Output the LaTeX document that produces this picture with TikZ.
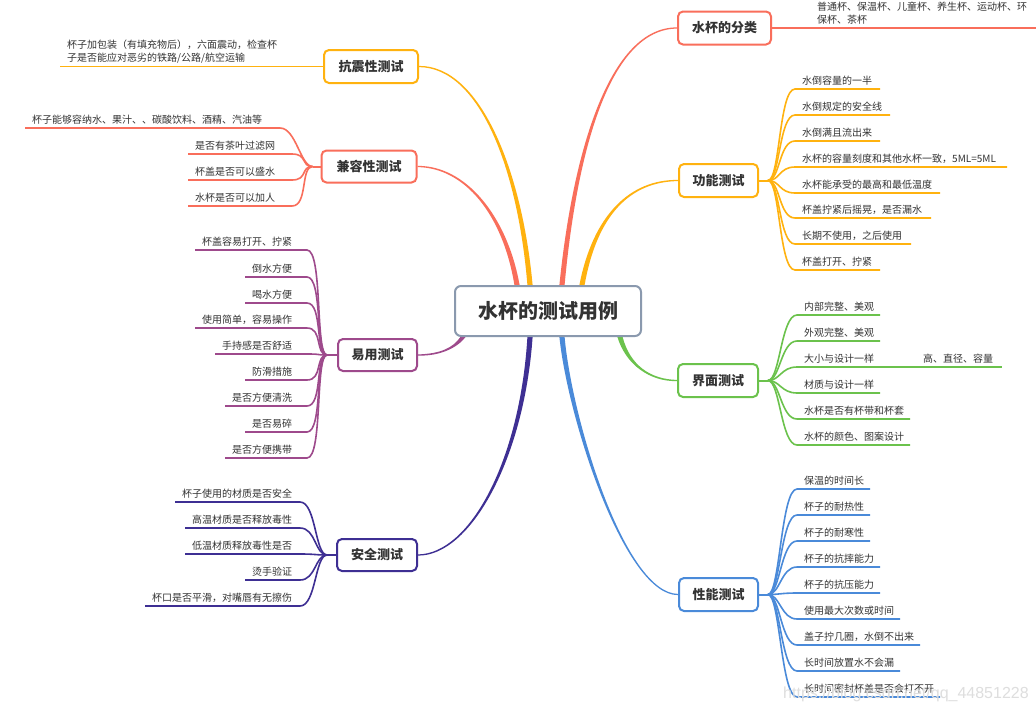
\documentclass[tikz,border=0pt]{standalone}
\usepackage{fontspec}
\setmainfont{Noto Sans CJK SC}
\newfontfamily\wmfont{Liberation Sans}
\usetikzlibrary{calc}
\pgfdeclarelayer{bg}
\pgfsetlayers{bg,main}
\definecolor{cred}{HTML}{F96E5B}
\definecolor{cyel}{HTML}{FFB20F}
\definecolor{cgrn}{HTML}{6BC24C}
\definecolor{cblu}{HTML}{4A8AD9}
\definecolor{cpur}{HTML}{9E4A8C}
\definecolor{cind}{HTML}{3E2F93}
\definecolor{cgray}{HTML}{8A99AE}
\definecolor{ctxt}{HTML}{333333}
% main tapered branch: #1 colour, #2 start, #3 c1, #4 c2, #5 end, #6 side sign
\newcommand{\mbranch}[6]{%
  \fill[#1] ($(#2)+(-2.6,0)$) .. controls ($(#3)+(-2,0)$) and ($(#4)+(0,{-1.2*(#6)})$) .. ($(#5)+(0,{-0.6*(#6)})$) -- ($(#5)+(0,{0.6*(#6)})$) .. controls ($(#4)+(0,{1.2*(#6)})$) and ($(#3)+(2,0)$) .. ($(#2)+(2.6,0)$) -- cycle;}
% right leaf: #1 colour, #2 junction, #3 x start, #4 y, #5 x end, #6 text, #7 name
\newcommand{\rleaf}[7]{%
  \coordinate (#7s) at (#3,#4);
  \coordinate (#7e) at (#5,#4);
  \node[leaf, anchor=base west] (#7) at (#3+7,#4-5) {#6};
  \draw[#1, leafline] (#2) .. controls ($(#2)+(12,0)$) and ($(#7s)+(-16,0)$) .. (#7s) -- (#7e);}
% left leaf: #1 colour, #2 junction, #3 x left, #4 x right, #5 y, #6 text, #7 name
\newcommand{\lleaf}[7]{%
  \coordinate (#7s) at (#4,#5);
  \coordinate (#7e) at (#3,#5);
  \node[leaf, anchor=base west] (#7) at (#3+7,#5-5) {#6};
  \draw[#1, leafline] (#2) .. controls ($(#2)+(-12,0)$) and ($(#7s)+(16,0)$) .. (#7s) -- (#7e);}
\begin{document}
\begin{tikzpicture}[x=1pt,y=-1pt,
  leaf/.style={inner sep=0pt, text=ctxt, font=\fontsize{10}{13}\selectfont},
  leafline/.style={line width=1.6pt},
  stub/.style={line width=2pt},
  mainbox/.style={draw=#1, line width=2pt, rounded corners=5pt, fill=white, minimum height=35pt, inner sep=0pt, text=ctxt, font=\fontsize{13}{15}\selectfont\bfseries}]
\clip (0,0) rectangle (1036,710);
\begin{pgfonlayer}{bg}
\fill[white] (0,0) rectangle (1036,710);
\end{pgfonlayer}

% centre
\node[draw=cgray, line width=2pt, rounded corners=6pt, fill=white, minimum width=186pt, minimum height=50pt, inner sep=0pt, font=\fontsize{20}{22}\selectfont\bfseries, text=ctxt] (ctr) at (548,311) {水杯的测试用例};

% main topics
\node[mainbox=cred, minimum width=93pt, minimum height=33pt] (cls) at (724.5,28) {水杯的分类};
\node[mainbox=cyel, minimum width=79pt, minimum height=33pt] (gn) at (718.5,180.5) {功能测试};
\node[mainbox=cgrn, minimum width=80pt, minimum height=33pt] (jm) at (718,380.5) {界面测试};
\node[mainbox=cblu, minimum width=79pt, minimum height=33pt] (xn) at (718.5,594.5) {性能测试};
\node[mainbox=cyel, minimum width=94pt, minimum height=33pt] (kz) at (371,66.5) {抗震性测试};
\node[mainbox=cred, minimum width=95pt, minimum height=32pt] (jr) at (369,166.5) {兼容性测试};
\node[mainbox=cpur, minimum width=79pt, minimum height=32pt] (yy) at (377.5,355) {易用测试};
\node[mainbox=cind, minimum width=80pt, minimum height=32pt] (aq) at (377,555) {安全测试};

% branch start points on the centre box
\coordinate (b1) at ($(ctr.north)+(14,0)$);
\coordinate (b2) at ($(ctr.north)+(34,0)$);
\coordinate (b3) at ($(ctr.north)+(-18,0)$);
\coordinate (b4) at ($(ctr.north)+(-31,0)$);
\coordinate (b5) at ($(ctr.south)+(72,0)$);
\coordinate (b6) at ($(ctr.south)+(14,0)$);
\coordinate (b7) at ($(ctr.south)+(-18,0)$);
\coordinate (b8) at ($(ctr.south)+(-85,0)$);

\begin{pgfonlayer}{bg}
\mbranch{cred}{b1}{575,150}{610,28}{cls.west}{1}
\mbranch{cyel}{b2}{595,215}{630,180.5}{gn.west}{1}
\mbranch{cyel}{b3}{520,170}{480,66.5}{kz.east}{-1}
\mbranch{cred}{b4}{505,215}{465,166.5}{jr.east}{-1}
\mbranch{cgrn}{b5}{628,365}{650,380.5}{jm.west}{-1}
\mbranch{cblu}{b6}{570,420}{625,594.5}{xn.west}{-1}
\mbranch{cind}{b7}{522,460}{470,555}{aq.east}{1}
\mbranch{cpur}{b8}{455,348}{440,355}{yy.east}{1}
\end{pgfonlayer}

% junctions
\coordinate (gnj) at ($(gn.east)+(9,0)$);
\coordinate (jmj) at ($(jm.east)+(9,0)$);
\coordinate (xnj) at ($(xn.east)+(9,0)$);
\coordinate (jrj) at ($(jr.west)+(-8,0)$);
\coordinate (yyj) at ($(yy.west)+(-10,0)$);
\coordinate (aqj) at ($(aq.west)+(-9,0)$);
\draw[cyel, stub] (gn.east) -- (gnj);
\draw[cgrn, stub] (jm.east) -- (jmj);
\draw[cblu, stub] (xn.east) -- (xnj);
\draw[cred, stub] (jr.west) -- (jrj);
\draw[cpur, stub] (yy.west) -- (yyj);
\draw[cind, stub] (aq.west) -- (aqj);

% 水杯的分类
\coordinate (clsl) at (1036,28);
\draw[cred, leafline] (cls.east) -- (clsl);
\node[leaf, anchor=south west, align=left] (clst) at (817,25) {普通杯、保温杯、儿童杯、养生杯、运动杯、环\\保杯、茶杯};

% 抗震性测试
\coordinate (kzl) at (60,66.5);
\draw[cyel, leafline] (kz.west) -- (kzl);
\node[leaf, anchor=south west, align=left] (kzt) at (67,63.5) {杯子加包装（有填充物后），六面震动，检查杯\\子是否能应对恶劣的铁路/公路/航空运输};

% 功能测试
\rleaf{cyel}{gnj}{795}{89}{880}{水倒容量的一半}{g1}
\rleaf{cyel}{gnj}{795}{115}{890}{水倒规定的安全线}{g2}
\rleaf{cyel}{gnj}{795}{141}{880}{水倒满且流出来}{g3}
\rleaf{cyel}{gnj}{795}{167}{1007}{水杯的容量刻度和其他水杯一致，5ML=5ML}{g4}
\rleaf{cyel}{gnj}{795}{193}{940}{水杯能承受的最高和最低温度}{g5}
\rleaf{cyel}{gnj}{795}{218}{931}{杯盖拧紧后摇晃，是否漏水}{g6}
\rleaf{cyel}{gnj}{795}{244}{911}{长期不使用，之后使用}{g7}
\rleaf{cyel}{gnj}{795}{270}{880}{杯盖打开、拧紧}{g8}

% 界面测试
\rleaf{cgrn}{jmj}{797}{315}{880}{内部完整、美观}{j1}
\rleaf{cgrn}{jmj}{797}{341}{880}{外观完整、美观}{j2}
\rleaf{cgrn}{jmj}{797}{367}{880}{大小与设计一样}{j3}
\rleaf{cgrn}{jmj}{797}{393}{880}{材质与设计一样}{j4}
\rleaf{cgrn}{jmj}{797}{419}{910}{水杯是否有杯带和杯套}{j5}
\rleaf{cgrn}{jmj}{797}{445}{910}{水杯的颜色、图案设计}{j6}
\coordinate (j3x) at (1002,367);
\draw[cgrn, leafline] (j3e) -- (j3x);
\node[leaf, anchor=base west] (j3sub) at (923,362) {高、直径、容量};

% 性能测试
\rleaf{cblu}{xnj}{797}{489}{870}{保温的时间长}{p1}
\rleaf{cblu}{xnj}{797}{515}{870}{杯子的耐热性}{p2}
\rleaf{cblu}{xnj}{797}{541}{870}{杯子的耐寒性}{p3}
\rleaf{cblu}{xnj}{797}{567}{880}{杯子的抗摔能力}{p4}
\rleaf{cblu}{xnj}{797}{593}{880}{杯子的抗压能力}{p5}
\rleaf{cblu}{xnj}{797}{619}{900}{使用最大次数或时间}{p6}
\rleaf{cblu}{xnj}{797}{645}{920}{盖子拧几圈，水倒不出来}{p7}
\rleaf{cblu}{xnj}{797}{671}{900}{长时间放置水不会漏}{p8}
\rleaf{cblu}{xnj}{797}{697}{940}{长时间密封杯盖是否会打不开}{p9}

% 兼容性测试
\lleaf{cred}{jrj}{25}{280}{128}{杯子能够容纳水、果汁、、碳酸饮料、酒精、汽油等}{r1}
\lleaf{cred}{jrj}{188}{292}{154}{是否有茶叶过滤网}{r2}
\lleaf{cred}{jrj}{188}{292}{180}{杯盖是否可以盛水}{r3}
\lleaf{cred}{jrj}{188}{292}{206}{水杯是否可以加人}{r4}

% 易用测试
\lleaf{cpur}{yyj}{195}{307}{250}{杯盖容易打开、拧紧}{y1}
\lleaf{cpur}{yyj}{245}{307}{277}{倒水方便}{y2}
\lleaf{cpur}{yyj}{245}{307}{303}{喝水方便}{y3}
\lleaf{cpur}{yyj}{195}{307}{328}{使用简单，容易操作}{y4}
\lleaf{cpur}{yyj}{215}{307}{354}{手持感是否舒适}{y5}
\lleaf{cpur}{yyj}{245}{307}{380}{防滑措施}{y6}
\lleaf{cpur}{yyj}{225}{307}{406}{是否方便清洗}{y7}
\lleaf{cpur}{yyj}{245}{307}{432}{是否易碎}{y8}
\lleaf{cpur}{yyj}{225}{307}{458}{是否方便携带}{y9}

% 安全测试
\lleaf{cind}{aqj}{175}{300}{502}{杯子使用的材质是否安全}{s1}
\lleaf{cind}{aqj}{185}{300}{528}{高温材质是否释放毒性}{s2}
\lleaf{cind}{aqj}{185}{300}{554}{低温材质释放毒性是否}{s3}
\lleaf{cind}{aqj}{245}{300}{580}{烫手验证}{s4}
\lleaf{cind}{aqj}{145}{300}{606}{杯口是否平滑，对嘴唇有无擦伤}{s5}

% watermark
\node[anchor=base west, inner sep=0pt, text=black!13, font=\wmfont\fontsize{16}{16}\selectfont] (wm) at (783,698) {https://blog.csdn.net/qq\_44851228};
\end{tikzpicture}
\end{document}
